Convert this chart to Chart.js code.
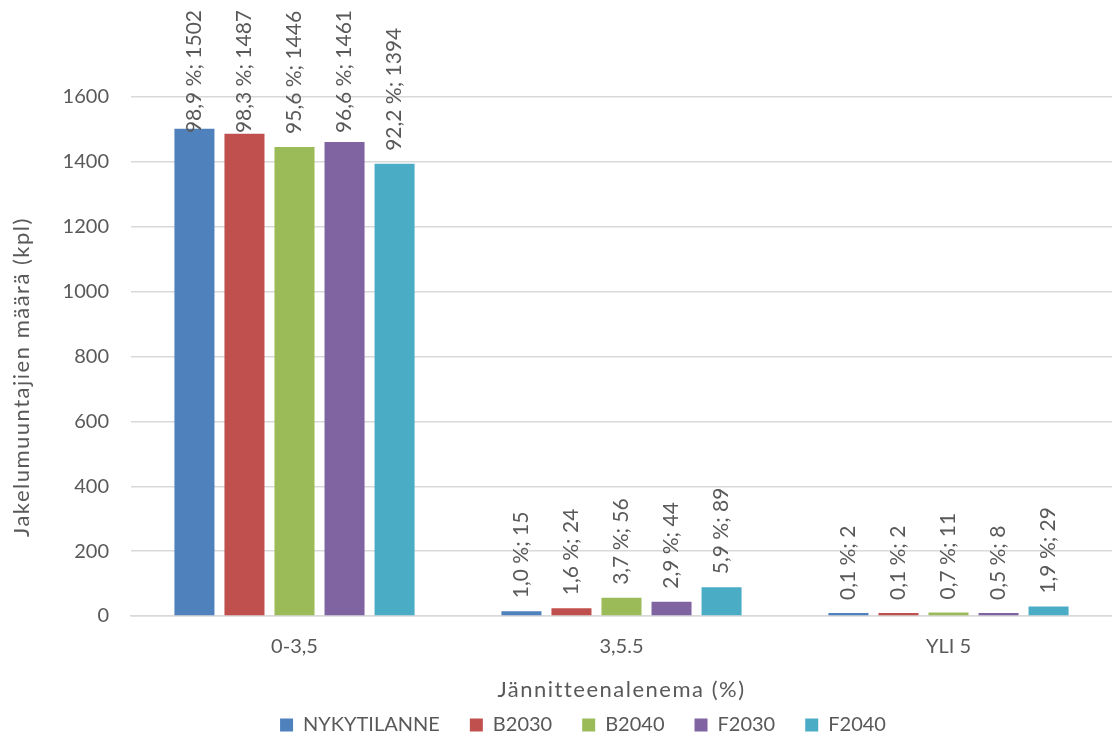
<!DOCTYPE html>
<html>
<head>
<meta charset="utf-8">
<script src="https://cdn.jsdelivr.net/npm/chart.js@4"></script>
<style>
    html, body { margin: 0; padding: 0; background: #fff; }
    #wrap { width: 1112px; height: 738px; }
</style>
</head>
<body>
<div id="wrap"><canvas id="chart"></canvas></div>
<script>
// Chart data
const categories = ['0-3,5', '3,5.5', 'YLI 5'];
const seriesNames = ['NYKYTILANNE', 'B2030', 'B2040', 'F2030', 'F2040'];
const seriesColors = ['#4f81bd', '#c0504d', '#9bbb59', '#8064a2', '#4bacc6'];

const nykytilanne = [1502, 15, 2];
const b2030 = [1487, 24, 2];
const b2040 = [1446, 56, 11];
const f2030 = [1461, 44, 8];
const f2040 = [1394, 89, 29];

const nykytilannePct = ['98,9', '1,0', '0,1'];
const b2030Pct = ['98,3', '1,6', '0,1'];
const b2040Pct = ['95,6', '3,7', '0,7'];
const f2030Pct = ['96,6', '2,9', '0,5'];
const f2040Pct = ['92,2', '5,9', '1,9'];

const yTicks = [0, 200, 400, 600, 800, 1000, 1200, 1400, 1600];

const values = [nykytilanne, b2030, b2040, f2030, f2040];
const percents = [nykytilannePct, b2030Pct, b2040Pct, f2030Pct, f2040Pct];

const textColor = '#595959';
const fontFamily = "Lato, 'Open Sans', sans-serif";
const xTitle = 'Jännitteenalenema (%)';
const yTitle = 'Jakelumuuntajien määrä (kpl)';

const legendFont = 20;
const legendPad = 30;

// Rotated "pct %; value" labels above each bar, plus the axis titles
const barLabels = {
    id: 'barLabels',
    afterLayout(chart) {
        // Excel puts the legend lower and a bit right of the canvas centre
        const lg = chart.legend;
        const h = lg.height;
        lg.top = 725 - legendPad - legendFont / 2;
        lg.bottom = lg.top + h;
        lg.left += 27;
        lg.right += 27;
    },
    afterDatasetsDraw(chart) {
        const ctx = chart.ctx;
        ctx.save();
        ctx.font = '21px ' + fontFamily;
        ctx.fillStyle = textColor;
        ctx.textAlign = 'left';
        ctx.textBaseline = 'middle';
        chart.data.datasets.forEach((ds, i) => {
            const meta = chart.getDatasetMeta(i);
            meta.data.forEach((bar, j) => {
                const text = percents[i][j] + ' %; ' + ds.data[j];
                const w = ctx.measureText(text).width;
                const start = Math.max(bar.y - 13, 10 + w);
                ctx.save();
                ctx.translate(bar.x, start);
                ctx.rotate(-Math.PI / 2);
                ctx.fillText(text, 0, 0);
                ctx.restore();
            });
        });

        // axis titles, spaced out a little like the original
        ctx.font = '22px ' + fontFamily;
        ctx.letterSpacing = '1.5px';
        ctx.textAlign = 'center';
        const area = chart.chartArea;
        ctx.fillText(xTitle, (area.left + area.right) / 2, 690);

        ctx.translate(22, 377);
        ctx.rotate(-Math.PI / 2);
        ctx.fillText(yTitle, 0, 0);
        ctx.restore();
    }
};

new Chart(document.getElementById('chart'), {
    type: 'bar',
    data: {
        labels: categories,
        datasets: seriesNames.map((name, i) => ({
            label: name,
            data: values[i],
            backgroundColor: seriesColors[i],
            categoryPercentage: 0.765,
            barPercentage: 0.8,
            minBarLength: 3
        }))
    },
    options: {
        responsive: true,
        maintainAspectRatio: false,
        animation: false,
        layout: { padding: { top: 97, right: 0, left: 0, bottom: 0 } },
        scales: {
            x: {
                grid: { display: false },
                border: { color: '#d9d9d9', width: 1.5 },
                afterFit: (scale) => {
                    scale.height = 738 - scale.chart.legend.height - 616;
                },
                ticks: { color: textColor, font: { family: fontFamily, size: 20 }, padding: 11 }
            },
            y: {
                min: 0,
                max: 1600,
                afterBuildTicks: (scale) => { scale.ticks = yTicks.map(v => ({ value: v })); },
                afterFit: (scale) => { scale.width = 131; },
                grid: { color: '#d9d9d9', lineWidth: 1.5, drawTicks: false },
                border: { display: false },
                ticks: {
                    color: textColor,
                    font: { family: fontFamily, size: 20 },
                    padding: 22,
                    callback: (v) => String(v)
                }
            }
        },
        plugins: {
            legend: {
                position: 'bottom',
                labels: {
                    color: textColor,
                    font: { family: fontFamily, size: legendFont },
                    boxWidth: 13,
                    boxHeight: 13,
                    padding: legendPad
                }
            },
            tooltip: { enabled: false }
        }
    },
    plugins: [barLabels]
});
</script>
</body>
</html>
